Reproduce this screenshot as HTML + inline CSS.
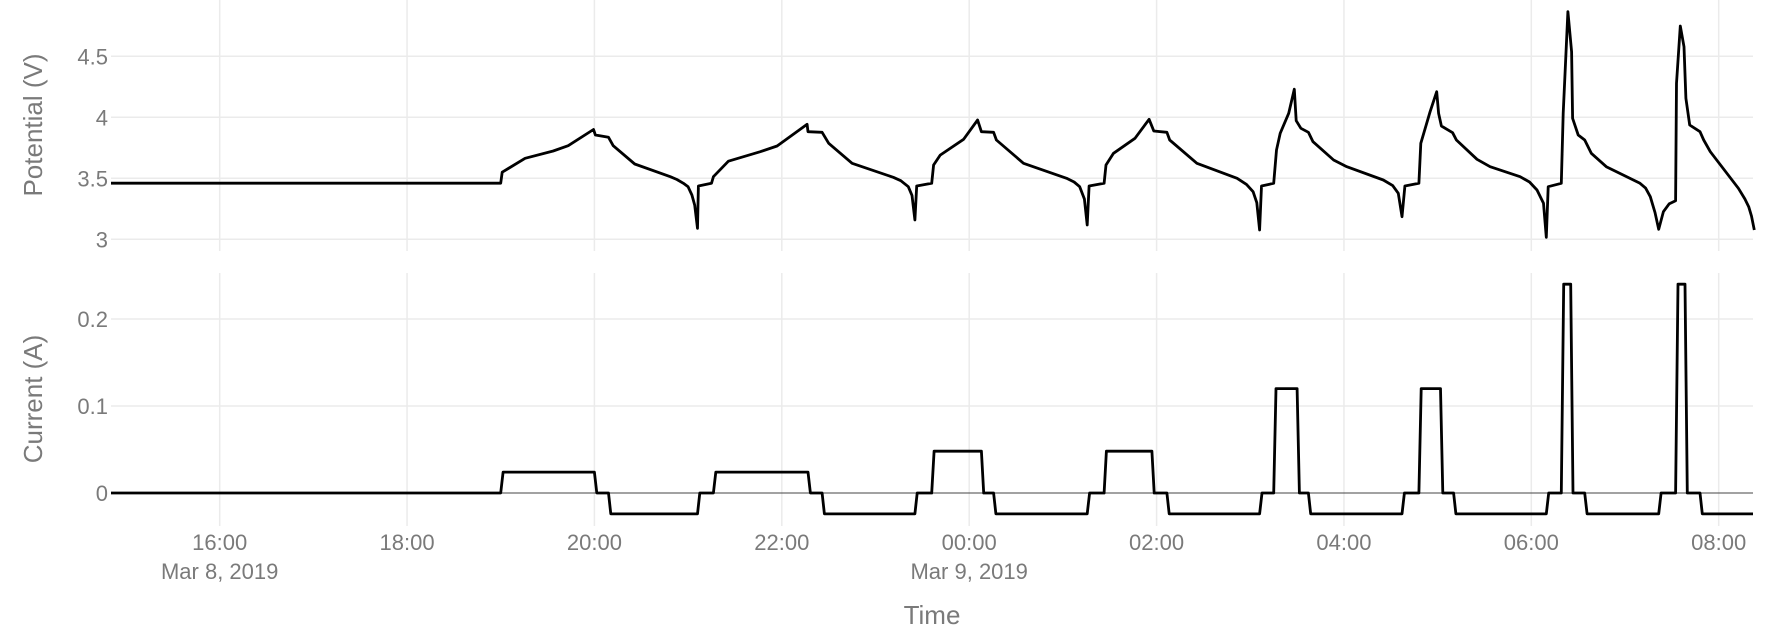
<!DOCTYPE html>
<html><head><meta charset="utf-8"><style>
html,body{margin:0;padding:0;background:#fff;}
svg{display:block;font-family:"Liberation Sans",Arial,sans-serif;}
</style></head><body>
<svg id="chart" width="1778" height="634" viewBox="0 0 1778 634" xmlns="http://www.w3.org/2000/svg">
<g id="grid"></g>
<g id="marks"></g>
<g id="labels"></g>
</svg>
<script>
// ---- data (time in hours since Mar 8 2019 00:00) ----
const potTimes = [14.84,19.0,19.015,19.26,19.56,19.72,19.99,20.01,20.15,20.2,20.43,20.81,20.88,20.95,21.0,21.04,21.07,21.10,21.11,21.25,21.27,21.43,21.77,21.95,22.27,22.28,22.43,22.50,22.75,23.19,23.27,23.35,23.39,23.42,23.44,23.60,23.62,23.69,23.94,24.09,24.13,24.26,24.29,24.58,25.04,25.12,25.18,25.23,25.26,25.28,25.44,25.46,25.54,25.77,25.92,25.97,26.11,26.14,26.43,26.86,26.96,27.03,27.07,27.10,27.12,27.25,27.28,27.32,27.41,27.47,27.49,27.54,27.62,27.67,27.89,28.03,28.42,28.52,28.58,28.62,28.65,28.80,28.82,28.92,28.99,29.01,29.04,29.16,29.20,29.42,29.56,29.88,29.98,30.06,30.13,30.16,30.18,30.32,30.34,30.39,30.43,30.44,30.50,30.57,30.64,30.80,31.16,31.22,31.27,31.32,31.36,31.41,31.47,31.54,31.55,31.59,31.63,31.65,31.69,31.80,31.84,31.91,32.21,32.28,32.32,32.35,32.38];
const potValues = [3.46,3.46,3.55,3.664,3.724,3.767,3.90,3.855,3.836,3.767,3.617,3.513,3.49,3.459,3.43,3.363,3.28,3.09,3.437,3.459,3.513,3.64,3.718,3.765,3.943,3.882,3.877,3.787,3.623,3.508,3.48,3.431,3.36,3.158,3.437,3.459,3.609,3.69,3.82,3.978,3.882,3.877,3.814,3.623,3.5,3.47,3.431,3.33,3.117,3.437,3.459,3.609,3.705,3.828,3.984,3.888,3.877,3.814,3.623,3.5,3.45,3.39,3.3,3.076,3.437,3.459,3.732,3.869,4.033,4.23,3.972,3.91,3.877,3.8,3.65,3.595,3.486,3.44,3.377,3.185,3.437,3.459,3.787,4.046,4.21,4.033,3.929,3.874,3.814,3.656,3.595,3.513,3.47,3.404,3.295,3.016,3.431,3.459,4.033,4.866,4.538,3.992,3.855,3.814,3.705,3.595,3.459,3.42,3.349,3.22,3.082,3.226,3.29,3.316,4.279,4.748,4.579,4.156,3.937,3.882,3.814,3.718,3.418,3.33,3.267,3.19,3.076];
const curChangeTimes = [19.0,20.0,20.15,21.1,21.27,22.28,22.43,23.42,23.6,24.13,24.26,25.26,25.44,25.95,26.11,27.1,27.25,27.5,27.62,28.62,28.8,29.03,29.17,30.16,30.32,30.42,30.57,31.36,31.54,31.64,31.8];
const curLevels = [0.024,0,-0.024,0,0.024,0,-0.024,0,0.048,0,-0.024,0,0.048,0,-0.024,0,0.12,0,-0.024,0,0.12,0,-0.024,0,0.24,0,-0.024,0,0.24,0,-0.024];
const xTicks = [16,18,20,22,24,26,28,30,32];
const xTickLabels = ["16:00","18:00","20:00","22:00","00:00","02:00","04:00","06:00","08:00"];
const vTicks = [3,3.5,4,4.5];
const vTickLabels = ["3","3.5","4","4.5"];
const iTicks = [0,0.1,0.2];
const iTickLabels = ["0","0.1","0.2"];

// ---- axes ----
const X0=111, X1=1753, T0=14.84, T1=32.366;
const xs = t => X0 + (t-T0)/(T1-T0)*(X1-X0);
const TOP0=0, TOP1=251, BOT0=273, BOT1=526;
const yV = v => 117.3 - (v-4)*122;
const yI = a => 493 - a*870;
const NS="http://www.w3.org/2000/svg";
function mk(tag, parent, attrs){const e=document.createElementNS(NS,tag);for(const k in attrs)e.setAttribute(k,attrs[k]);parent.appendChild(e);return e;}
const grid=document.getElementById('grid'), marks=document.getElementById('marks'), labels=document.getElementById('labels');

xTicks.forEach((t,i)=>{
  const x=xs(t);
  const g1=mk('line',grid,{x1:x,x2:x,y1:TOP0,y2:TOP1,stroke:'#ebebeb','stroke-width':1.5});
  
  
  const g2=mk('line',grid,{x1:x,x2:x,y1:BOT0,y2:BOT1,stroke:'#ebebeb','stroke-width':1.5});
  
  
  const tx=mk('text',labels,{x:x,y:550,'text-anchor':'middle','font-size':22,fill:'#7a7a7a'});
  tx.textContent=xTickLabels[i];
  
  
});
[[16,"Mar 8, 2019"],[24,"Mar 9, 2019"]].forEach(d=>{
  const tx=mk('text',labels,{x:xs(d[0]),y:579,'text-anchor':'middle','font-size':22,fill:'#7a7a7a'});
  tx.textContent=d[1];
  
  
});
vTicks.forEach((v,i)=>{
  const y=yV(v);
  const g=mk('line',grid,{x1:X0,x2:X1,y1:y,y2:y,stroke:'#ebebeb','stroke-width':1.5});
  
  
  const tx=mk('text',labels,{x:108,y:y+8,'text-anchor':'end','font-size':22,fill:'#7a7a7a'});
  tx.textContent=vTickLabels[i];
  
  
});
iTicks.forEach((a,i)=>{
  const y=yI(a);
  const g=mk('line',grid,{x1:X0,x2:X1,y1:y,y2:y,stroke:a===0?'#444':'#ebebeb','stroke-width':a===0?1:1.5});
  
  
  const tx=mk('text',labels,{x:108,y:y+8,'text-anchor':'end','font-size':22,fill:'#7a7a7a'});
  tx.textContent=iTickLabels[i];
  
  
});

// potential line
let d='';
potTimes.forEach((t,i)=>{d+=(i?'L':'M')+xs(t).toFixed(1)+','+yV(potValues[i]).toFixed(1);});
const pl=mk('path',marks,{d:d,fill:'none',stroke:'#000','stroke-width':2.8,'stroke-linejoin':'round'});



// current line
let prev=0; let dc='M'+xs(T0).toFixed(1)+','+yI(0).toFixed(1);
curChangeTimes.forEach((t,i)=>{
  dc+='L'+xs(t).toFixed(1)+','+yI(prev).toFixed(1);
  dc+='L'+xs(t+0.025).toFixed(1)+','+yI(curLevels[i]).toFixed(1);
  prev=curLevels[i];
});
dc+='L'+xs(T1).toFixed(1)+','+yI(prev).toFixed(1);
const cl=mk('path',marks,{d:dc,fill:'none',stroke:'#000','stroke-width':2.8,'stroke-linejoin':'round'});



// titles
const t1=mk('text',labels,{x:0,y:0,'text-anchor':'middle','font-size':26,fill:'#7a7a7a',transform:'translate(42,125) rotate(-90)'});
t1.textContent='Potential (V)';


const t2=mk('text',labels,{x:0,y:0,'text-anchor':'middle','font-size':26,fill:'#7a7a7a',transform:'translate(42,399) rotate(-90)'});
t2.textContent='Current (A)';


const t3=mk('text',labels,{x:932,y:624,'text-anchor':'middle','font-size':26,fill:'#7a7a7a'});
t3.textContent='Time';


</script>
</body></html>
